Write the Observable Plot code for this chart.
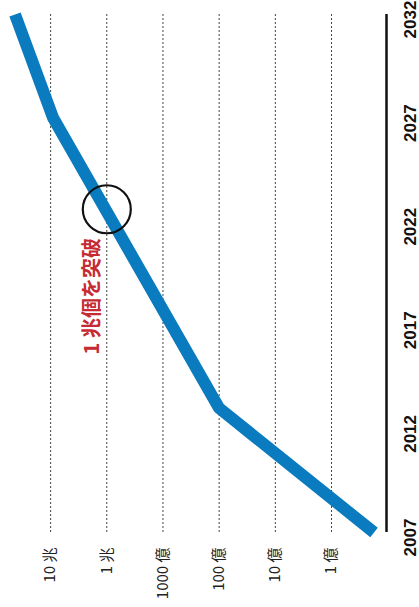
<!DOCTYPE html>
<html>
<head>
<meta charset="utf-8">
<script src="https://cdn.jsdelivr.net/npm/d3@7"></script>
<script src="https://cdn.jsdelivr.net/npm/@observablehq/plot@0.6"></script>
<style>
  html, body { margin: 0; padding: 0; background: #ffffff; }
  #chart svg { display: block; }
</style>
</head>
<body>
<div id="chart"></div>
<script>
// ---- data ----
const years = [2007, 2013, 2027, 2032];
const values = [1.75e7, 1.0e10, 9.0e12, 4.3e13];
const gridValues = [1e8, 1e9, 1e10, 1e11, 1e12, 1e13];
const gridLabels = ["1 億", "10 億", "100 億", "1000 億", "1 兆", "10 兆"];
const yearTicks = [2007, 2012, 2017, 2022, 2027, 2032];
const valueDomain = [7.8e13, 1.05e7];
const yearDomain = [2007, 2032];
const markerYear = [2022.6];
const markerValue = [1e12];
const noteText = ["1 兆個を突破"];
const noteYear = [2018.4];
const noteValue = [1.8e12];

const series = years.map((y, i) => ({year: y, value: values[i]}));
const labelOf = new Map(gridValues.map((v, i) => [v, gridLabels[i]]));
const marker = markerYear.map((y, i) => ({year: y, value: markerValue[i]}));
const note = noteText.map((t, i) => ({text: t, year: noteYear[i], value: noteValue[i]}));

const chart = Plot.plot({
  width: 419,
  height: 607,
  marginLeft: 0,
  marginRight: 33,
  marginTop: 14,
  marginBottom: 75,
  style: {background: "#ffffff", fontFamily: "'Noto Sans CJK JP', 'Liberation Sans', sans-serif"},
  x: {type: "log", domain: valueDomain, label: null},
  y: {domain: yearDomain, label: null},
  marks: [
    Plot.ruleX(gridValues, {y1: yearDomain[0], y2: yearDomain[1], stroke: "#444", strokeWidth: 1, strokeDasharray: "2,2"}),
    Plot.ruleX([valueDomain[1]], {y1: yearDomain[0], y2: yearDomain[1], stroke: "#111", strokeWidth: 2.5}),
    Plot.axisX(gridValues, {
      anchor: "bottom", label: null, tickSize: 0, tickRotate: -90, tickPadding: 15,
      textAnchor: "end", lineAnchor: "middle",
      tickFormat: d => labelOf.get(d),
      fontSize: 15, fill: "#222", fontFamily: "'Noto Sans CJK JP', sans-serif"
    }),
    Plot.axisY(yearTicks, {
      anchor: "right", label: null, tickSize: 0, tickRotate: -90, tickPadding: 17,
      textAnchor: "middle", lineAnchor: "top", dy: 5,
      tickFormat: d => String(d),
      fontSize: 17, fontWeight: "bold", fill: "#111", fontFamily: "'Liberation Sans', Arial, sans-serif"
    }),
    Plot.line(series, {x: "value", y: "year", stroke: "#0a7bbf", strokeWidth: 12, strokeLinecap: "butt", strokeLinejoin: "miter"}),
    Plot.dot(marker, {x: "value", y: "year", r: 24, stroke: "#111", strokeWidth: 2.2, fill: "none"}),
    Plot.text(note, {x: "value", y: "year", text: "text", rotate: -90, textAnchor: "middle", lineAnchor: "middle",
      fill: "#c62a32", fontSize: 20, fontWeight: "bold", fontFamily: "'Noto Sans CJK JP', sans-serif"})
  ]
});
document.getElementById("chart").appendChild(chart);
</script>
</body>
</html>
